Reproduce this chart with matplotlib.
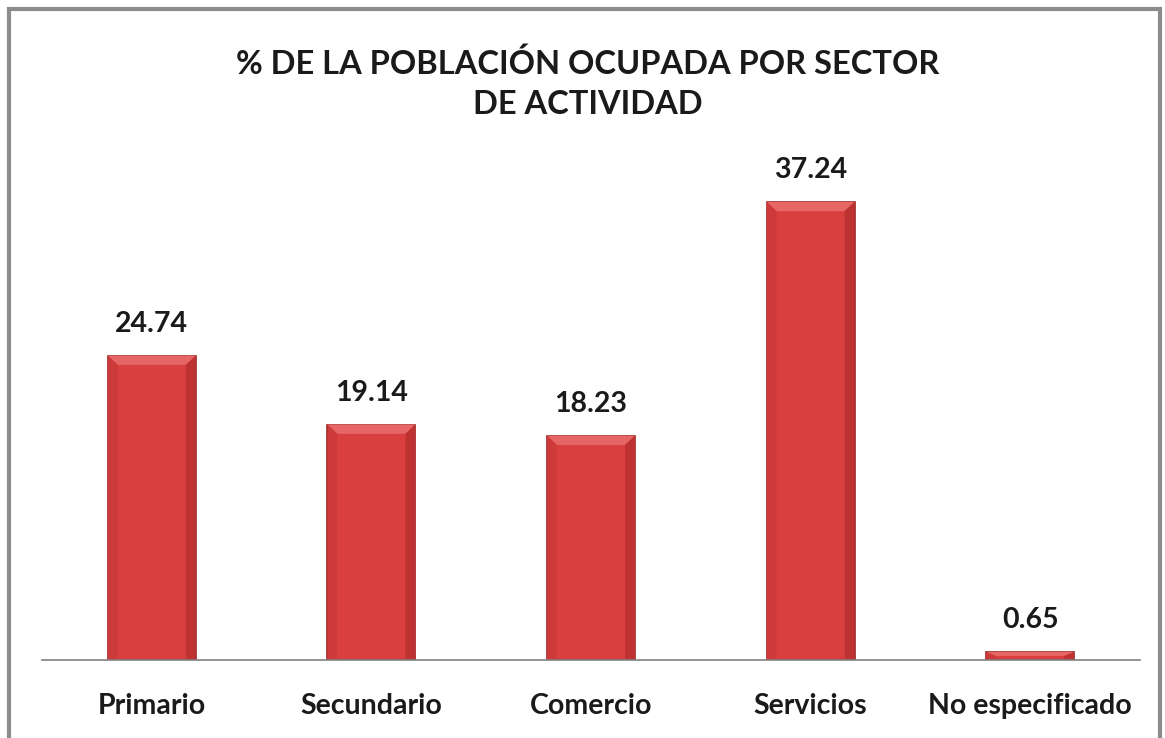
import matplotlib.pyplot as plt
from matplotlib.patches import Rectangle, Polygon

# datos: % de la población ocupada por sector
sectores = ['Primario', 'Secundario', 'Comercio', 'Servicios', 'No especificado']
porcentajes = [24.74, 19.14, 18.23, 37.24, 0.65]

plt.rcParams['font.family'] = ['Lato', 'DejaVu Sans']

W, H = 1165, 738
fig = plt.figure(figsize=(W / 100, H / 100), dpi=100)

# marco gris alrededor del gráfico
fig.patches.append(Rectangle((9 / W, -0.05), (1160 - 9) / W, 1.05 - 9 / H,
                             transform=fig.transFigure, fill=False,
                             edgecolor='#8c8c8c', linewidth=3))

ax = fig.add_axes([42 / W, (H - 660) / H, (1140 - 42) / W, 500 / H])
x = range(len(sectores))
ancho = 0.4
bars = ax.bar(x, porcentajes, width=ancho, color='#d93f3f',
              edgecolor='#9c2626', linewidth=1.2, zorder=2)

# efecto biselado: franja clara arriba y laterales más oscuros
bx, by = 0.045, 0.75
for b, v in zip(bars, porcentajes):
    x0, x1 = b.get_x(), b.get_x() + b.get_width()
    d = min(by, v / 2)
    ax.add_patch(Polygon([(x0, v), (x1, v), (x1 - bx, v - d), (x0 + bx, v - d)],
                         closed=True, facecolor='#e66666', edgecolor='none', zorder=3))
    ax.add_patch(Polygon([(x0, 0), (x0, v), (x0 + bx, v - d), (x0 + bx, 0)],
                         closed=True, facecolor='#cc3a3a', edgecolor='none', zorder=3))
    ax.add_patch(Polygon([(x1, 0), (x1, v), (x1 - bx, v - d), (x1 - bx, 0)],
                         closed=True, facecolor='#bf3232', edgecolor='none', zorder=3))
    ax.text((x0 + x1) / 2, v + 1.55, f'{v:.2f}',
            ha='center', va='bottom', fontsize=20.5, fontweight='bold',
            color='#1a1a1a')

ax.set_xlim(-0.5, len(sectores) - 0.5)
ax.set_ylim(0, 40.65)
ax.set_xticks(list(x))
ax.set_xticklabels(sectores, fontsize=20.5, fontweight='bold', color='#1a1a1a')
ax.tick_params(axis='x', length=0, pad=24)
ax.set_yticks([])
for s in ['top', 'right', 'left']:
    ax.spines[s].set_visible(False)
ax.spines['bottom'].set_color('#808080')
ax.spines['bottom'].set_linewidth(1.2)
ax.spines['bottom'].set_zorder(4)

fig.text(588 / W, 1 - 84 / H, '% DE LA POBLACIÓN OCUPADA POR SECTOR\nDE ACTIVIDAD',
         ha='center', va='center', fontsize=23.5, fontweight='bold',
         color='#1a1a1a', linespacing=1.45)

fig.savefig('out.png', dpi=100)
